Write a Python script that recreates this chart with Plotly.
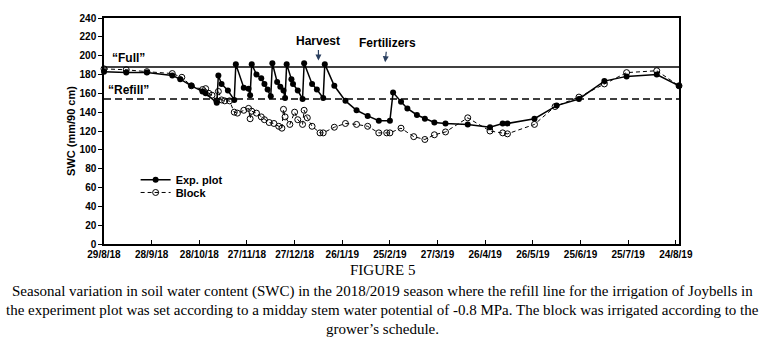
import plotly.graph_objects as go
import pandas as pd

# ---- data ----
exp_dates = ["2018-08-29", "2018-09-12", "2018-09-25", "2018-10-11", "2018-10-16", "2018-10-23",
             "2018-10-30", "2018-11-01", "2018-11-08", "2018-11-09", "2018-11-11", "2018-11-15",
             "2018-11-19", "2018-11-20", "2018-11-25", "2018-11-28", "2018-11-29", "2018-11-30",
             "2018-12-03", "2018-12-06", "2018-12-08", "2018-12-10", "2018-12-12", "2018-12-13",
             "2018-12-16", "2018-12-18", "2018-12-20", "2018-12-21", "2018-12-22", "2018-12-25",
             "2018-12-26", "2018-12-29", "2019-01-01", "2019-01-02", "2019-01-07", "2019-01-10",
             "2019-01-14", "2019-01-15", "2019-01-21", "2019-01-28", "2019-02-04", "2019-02-11",
             "2019-02-18", "2019-02-25", "2019-02-27", "2019-03-04", "2019-03-08", "2019-03-14",
             "2019-03-19", "2019-03-25", "2019-04-01", "2019-04-15", "2019-04-29", "2019-05-07",
             "2019-05-10", "2019-05-27", "2019-06-10", "2019-06-24", "2019-07-10", "2019-07-24",
             "2019-08-12", "2019-08-26"]
exp_swc = [183, 182, 182, 179, 175, 168,
           162, 160, 150, 179, 170, 163,
           153, 191, 166, 165, 158, 191,
           180, 176, 170, 164, 157, 192,
           172, 167, 163, 155, 191, 175,
           170, 163, 154, 192, 170, 164,
           155, 191, 168, 152, 142, 136,
           131, 131, 161, 151, 144, 137,
           133, 129, 128, 127, 124, 128,
           128, 133, 147, 154, 173, 178,
           180, 168]

block_dates = ["2018-08-29", "2018-09-12", "2018-09-25", "2018-10-11", "2018-10-17", "2018-10-23",
               "2018-10-30", "2018-11-01", "2018-11-03", "2018-11-05", "2018-11-08", "2018-11-09",
               "2018-11-11", "2018-11-13", "2018-11-16", "2018-11-19", "2018-11-21", "2018-11-25",
               "2018-11-28", "2018-11-29", "2018-11-30", "2018-12-03", "2018-12-06", "2018-12-08",
               "2018-12-11", "2018-12-14", "2018-12-17", "2018-12-19", "2018-12-20", "2018-12-21",
               "2018-12-24", "2018-12-27", "2018-12-29", "2019-01-01", "2019-01-02", "2019-01-04",
               "2019-01-07", "2019-01-12", "2019-01-14", "2019-01-21", "2019-01-28", "2019-02-04",
               "2019-02-11", "2019-02-18", "2019-02-23", "2019-02-25", "2019-03-04", "2019-03-12",
               "2019-03-19", "2019-03-25", "2019-04-01", "2019-04-15", "2019-04-29", "2019-05-07",
               "2019-05-10", "2019-05-27", "2019-06-09", "2019-06-24", "2019-07-10", "2019-07-24",
               "2019-08-12", "2019-08-26"]
block_swc = [186, 185, 183, 181, 177, 168,
             164, 165, 160, 158, 152, 162,
             153, 152, 152, 140, 139, 142,
             144, 133, 141, 139, 135, 132,
             129, 128, 125, 123, 143, 135,
             127, 140, 132, 127, 142, 134,
             125, 118, 118, 124, 128, 127,
             125, 118, 118, 118, 123, 114,
             111, 116, 119, 134, 120, 118,
             117, 127, 146, 156, 170, 182,
             184, 168]

FULL = 188
REFILL = 154
tick_labels = ["29/8/18", "28/9/18", "28/10/18", "27/11/18", "27/12/18", "26/1/19", "25/2/19",
               "27/3/19", "26/4/19", "26/5/19", "25/6/19", "25/7/19", "24/8/19"]
tick_vals = pd.date_range("2018-08-29", periods=len(tick_labels), freq="30D")
x_range = ["2018-08-29", "2019-08-26"]

caption_lines = [
    "Seasonal variation in soil water content (SWC) in the 2018/2019 season where the refill line for the irrigation of Joybells in",
    "the experiment plot was set according to a midday stem water potential of -0.8 MPa. The block was irrigated according to the",
    "grower\u2019s schedule.",
]

SANS = "Liberation Sans, Arial, sans-serif"
SERIF = "Liberation Serif, Times New Roman, serif"

fig = go.Figure()
fig.add_trace(go.Scatter(
    x=exp_dates, y=exp_swc, name="<b>Exp. plot</b>", mode="lines+markers",
    line=dict(color="black", width=1.5),
    marker=dict(symbol="circle", size=6, color="black"),
    cliponaxis=False, legend="legend", showlegend=True))
fig.add_trace(go.Scatter(
    x=block_dates, y=block_swc, name="<b>Block</b>", mode="lines+markers",
    line=dict(color="black", width=1, dash="4px,3px"),
    marker=dict(symbol="circle-open", size=6, color="black", line=dict(width=1)),
    cliponaxis=False, legend="legend2", showlegend=True))

fig.add_hline(y=FULL, line=dict(color="black", width=1.5))
fig.add_hline(y=REFILL, line=dict(color="black", width=1.5, dash="7px,4px"))

ann_font = dict(family=SANS, size=12, color="black")
fig.add_annotation(x=0.042, y=FULL, xref="paper", yref="y", text="<b>\u201cFull\u201d</b>",
                   showarrow=False, xanchor="center", yanchor="bottom", font=ann_font)
fig.add_annotation(x=0.042, y=REFILL, xref="paper", yref="y", text="<b>\u201cRefill\u201d</b>",
                   showarrow=False, xanchor="center", yanchor="bottom", font=ann_font)
fig.add_annotation(x="2019-01-11", y=195, text="<b>Harvest</b>", showarrow=True,
                   arrowhead=2, arrowsize=1, arrowwidth=1.2, ax=0, ay=-19, font=ann_font)
fig.add_annotation(x="2019-02-22", y=193, text="<b>Fertilizers</b>", showarrow=True,
                   arrowhead=2, arrowsize=1, arrowwidth=1.2, ax=2, ay=-19, font=ann_font)

fig.add_annotation(x=0.485, y=-0.113, xref="paper", yref="paper", text="FIGURE 5",
                   showarrow=False, xanchor="center", yanchor="middle",
                   font=dict(family=SERIF, size=15, color="black"))
for i, line in enumerate(caption_lines):
    fig.add_annotation(x=0.485, y=-0.21 - 0.083 * i, xref="paper", yref="paper", text=line,
                       showarrow=False, xanchor="center", yanchor="middle",
                       font=dict(family=SERIF, size=15, color="black"))

axis_common = dict(showline=True, linecolor="black", linewidth=1.5, mirror=True,
                   showgrid=False, zeroline=False, ticklen=4, tickcolor="black",
                   tickfont=dict(family=SANS, size=10, color="black"))
fig.update_xaxes(type="date", range=x_range, tickvals=tick_vals,
                 ticktext=["<b>%s</b>" % t for t in tick_labels], ticks="inside", **axis_common)
fig.update_yaxes(range=[0, 240], dtick=20, ticks="outside",
                 tickprefix="<b>", ticksuffix="</b>",
                 title=dict(text="<b>SWC (mm/90 cm)</b>", font=dict(family=SANS, size=11, color="black"),
                            standoff=2), **axis_common)

legend_font = dict(family=SANS, size=11, color="black")
fig.update_layout(
    width=766, height=342,
    margin=dict(l=104, r=87, t=15, b=98),
    paper_bgcolor="white", plot_bgcolor="white",
    showlegend=True,
    legend=dict(x=0.055, y=0.284, xanchor="left", yanchor="middle", font=legend_font,
                bgcolor="rgba(0,0,0,0)", visible=True),
    legend2=dict(x=0.055, y=0.228, xanchor="left", yanchor="middle", font=legend_font,
                 bgcolor="rgba(0,0,0,0)", visible=True),
)

fig.write_html("out.html", config={"displayModeBar": False},
               post_script="document.body.style.margin='0';")
